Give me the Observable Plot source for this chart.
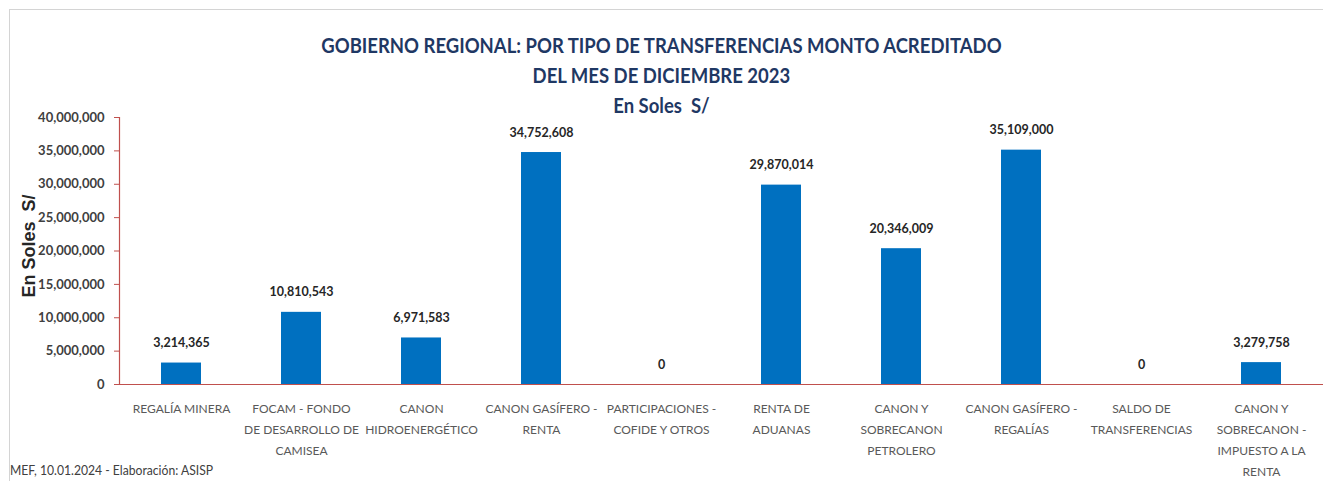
<!DOCTYPE html>
<html><head><meta charset="utf-8">
<script src="https://cdn.jsdelivr.net/npm/d3@7"></script>
<script src="https://cdn.jsdelivr.net/npm/@observablehq/plot@0.6"></script>
<style>
body{margin:0;background:#fff;}
#wrap{position:relative;width:1323px;height:481px;overflow:hidden;font-family:Lato,sans-serif;background:#fff;}
.frame{position:absolute;left:9px;top:9px;width:1330px;height:490px;border:1px solid #d4d4d4;box-sizing:border-box;}
.title{position:absolute;left:0;width:1323px;text-align:center;color:#1f3864;font-weight:bold;font-size:21.5px;line-height:24px;transform:scaleX(0.86);transform-origin:661px 0;}
.foot{position:absolute;left:10px;top:462px;font-size:12.8px;color:#404040;transform:scaleX(0.95);transform-origin:0 0;}
#chart{position:absolute;left:0;top:0;}
</style></head>
<body>
<div id="wrap">
<div class="frame"></div>
<div id="chart"></div>
<div class="title" style="top:33px">GOBIERNO REGIONAL: POR TIPO DE TRANSFERENCIAS MONTO ACREDITADO</div>
<div class="title" style="top:63px">DEL MES DE DICIEMBRE 2023</div>
<div class="title" style="top:93px">En Soles&nbsp; S/</div>
<div class="foot">MEF, 10.01.2024 - Elaboración: ASISP</div>
</div>
<script>
const categories = [
  "REGALÍA MINERA",
  "FOCAM - FONDO\nDE DESARROLLO DE\nCAMISEA",
  "CANON\nHIDROENERGÉTICO",
  "CANON GASÍFERO -\nRENTA",
  "PARTICIPACIONES -\nCOFIDE Y OTROS",
  "RENTA DE\nADUANAS",
  "CANON Y\nSOBRECANON\nPETROLERO",
  "CANON GASÍFERO -\nREGALÍAS",
  "SALDO DE\nTRANSFERENCIAS",
  "CANON Y\nSOBRECANON -\nIMPUESTO A LA\nRENTA"
];
const values = [3214365, 10810543, 6971583, 34752608, 0, 29870014, 20346009, 35109000, 0, 3279758];
const yTicks = [0, 5000000, 10000000, 15000000, 20000000, 25000000, 30000000, 35000000, 40000000];
const yLabel = "En Soles  S/";

const data = categories.map((c, i) => ({cat: c, value: values[i]}));
const fmt = d3.format(",");
const red = "#c0504d";

const chart = Plot.plot({
  width: 1323, height: 481,
  marginTop: 117, marginBottom: 97, marginLeft: 119, marginRight: 0,
  style: {background: "transparent", fontFamily: "Lato, sans-serif"},
  x: {domain: categories, paddingInner: 0.67, paddingOuter: 0.335, axis: null},
  y: {domain: [0, 40000000], axis: null},
  marks: [
    Plot.barY(data, {x: "cat", y: "value", fill: "#0070c0"}),
    Plot.ruleY([0], {stroke: red, strokeWidth: 1.2}),
    Plot.frame({anchor: "left", stroke: red, strokeWidth: 1.2}),
    Plot.axisY({ticks: yTicks, tickSize: 5, tickPadding: 10, tickFormat: fmt, fontSize: 13, fontWeight: "bold", fill: "#404040", stroke: red, label: null}),
    Plot.axisX({tickSize: 0, tickPadding: 14, fontSize: 12, fill: "#595959", lineHeight: 1.75, label: null}),
    Plot.text(data, {x: "cat", y: "value", text: d => fmt(d.value), dy: -20, fontSize: 12.5, fontWeight: "bold", fill: "#262626"}),
    Plot.text([yLabel], {frameAnchor: "left", dx: -90, dy: -5, rotate: -90, textAnchor: "middle", fontSize: 18, fontWeight: "bold", fill: "#262626", fontFamily: "Liberation Sans, Arial, sans-serif"})
  ]
});
document.getElementById("chart").appendChild(chart);
</script>
</body></html>
